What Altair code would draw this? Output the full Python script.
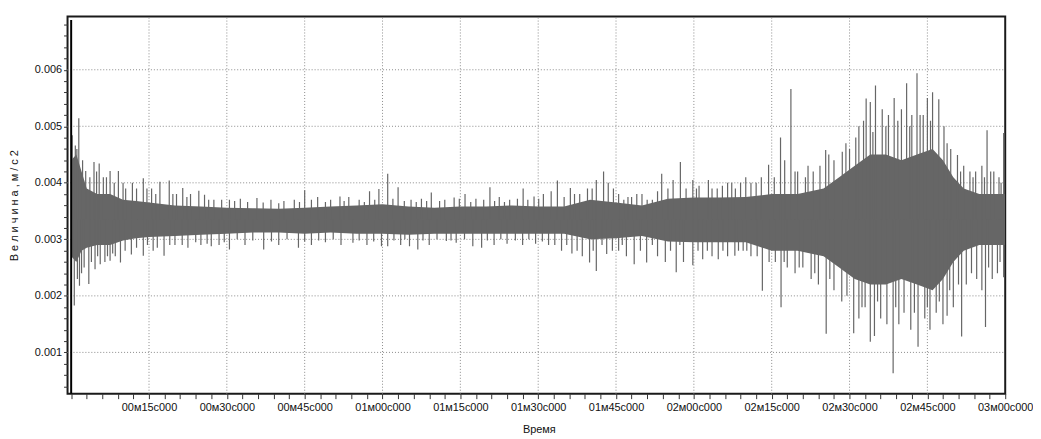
import altair as alt
import pandas as pd

# ---- envelope of the dense core of the signal (time in s, value in m/s2)
core_t = [0, 1, 2, 3, 5, 7.5, 10, 12.5, 15, 20, 25, 30, 35, 40, 45, 50, 55, 60, 65, 70,
          75, 80, 85, 90, 95, 100, 105, 110, 115, 120, 125, 130, 135, 140, 145, 148, 151,
          154, 157, 160, 163, 166, 168, 170, 172, 175, 178, 180]
core_hi = [0.0044, 0.0045, 0.0042, 0.0039, 0.0038, 0.0038, 0.0037, 0.00368, 0.00365, 0.0036,
           0.00358, 0.00356, 0.00355, 0.00354, 0.00356, 0.00358, 0.0036, 0.00362, 0.00358, 0.00356,
           0.00358, 0.00358, 0.0036, 0.00358, 0.00358, 0.0037, 0.00365, 0.0036, 0.00372, 0.00374,
           0.00374, 0.00375, 0.0038, 0.0038, 0.0039, 0.0041, 0.0043, 0.0045, 0.0045, 0.0044,
           0.0045, 0.0046, 0.0044, 0.0041, 0.0039, 0.0038, 0.0038, 0.0038]
core_lo = [0.0027, 0.0026, 0.0028, 0.00285, 0.0029, 0.0029, 0.00298, 0.00302, 0.00304, 0.00306,
           0.00308, 0.0031, 0.00312, 0.00312, 0.0031, 0.00312, 0.0031, 0.0031, 0.00308, 0.0031,
           0.0031, 0.0031, 0.0031, 0.0031, 0.0031, 0.003, 0.00302, 0.00306, 0.00296, 0.00295,
           0.00295, 0.00295, 0.0028, 0.0028, 0.0027, 0.0025, 0.0023, 0.0022, 0.0022, 0.0023,
           0.0022, 0.0021, 0.0023, 0.0026, 0.0028, 0.0029, 0.0029, 0.0029]

# ---- upward peaks
up_t = [0.2, 0.8, 1.47, 2.8, 3.6, 4.4, 5.4, 6.2, 7.5, 8.3, 9.1, 10.5, 11.8, 13.9, 15.5, 17.1,
        18.9, 20.3, 21.5, 23.0, 24.6, 25.7, 27.5, 29.0, 30.5, 32.6, 35.8, 38.5, 41.0, 43.0,
        45.0, 47.5, 50.0, 51.8, 53.5, 55.5, 57.5, 59.3, 61.0, 63.0, 65.5, 67.5, 69.4, 72.0,
        73.8, 75.9, 78.0, 80.7, 82.5, 84.5, 87.1, 89.2, 91.0, 93.7, 96.2, 98.0, 101.2, 102.6,
        104.5, 106.5, 108.0, 110.0, 112.0, 113.8, 116.0, 117.4, 119.8, 121.0, 122.8, 124.5,
        126.5, 128.0, 130.0, 132.0, 134.4, 135.5, 136.7, 138.7, 140.0, 141.5, 143.0, 144.3,
        145.4, 147.0, 148.6, 150.0, 151.2, 152.7, 153.2, 154.0, 155.0, 156.3, 157.5, 158.6,
        160.0, 161.0, 162.0, 163.0, 164.2, 165.0, 166.0, 167.2, 168.2, 169.5, 170.8, 172.0,
        173.2, 174.3, 175.5, 176.5, 177.8, 178.8, 179.7,
        1.1, 2.2, 4.9, 6.8, 10.0, 12.6, 14.6, 16.3, 19.6, 22.3, 26.5, 31.5, 34.0, 37.0, 40.0,
        44.0, 46.3, 49.0, 52.6, 56.5, 58.5, 62.0, 64.2, 66.5, 68.5, 71.0, 74.8, 77.0, 79.5,
        81.6, 83.5, 86.0, 88.0, 90.1, 92.5, 95.0, 97.0, 99.5, 100.4, 103.5, 105.5, 107.3,
        109.0, 111.0, 113.0, 115.0, 118.5, 120.5, 123.5, 125.5, 127.3, 129.0, 131.0, 133.0,
        137.5, 139.5, 142.0, 146.0, 149.3, 151.8, 154.5, 157.0, 159.3, 161.6, 163.6, 165.6,
        168.8, 171.4, 173.8, 176.0, 177.2, 179.2]
up_v = [0.00484, 0.00466, 0.00514, 0.00421, 0.0041, 0.00437, 0.00434, 0.0041, 0.00421, 0.0040,
        0.00421, 0.0039, 0.0040, 0.00408, 0.0039, 0.00402, 0.00404, 0.0038, 0.00391, 0.0038,
        0.00386, 0.00379, 0.0037, 0.0037, 0.0037, 0.00372, 0.00373, 0.0037, 0.00368, 0.0037,
        0.00387, 0.00375, 0.0037, 0.00376, 0.00375, 0.0037, 0.00385, 0.00389, 0.00416, 0.00392,
        0.0037, 0.00372, 0.00383, 0.0037, 0.00374, 0.0038, 0.00372, 0.00392, 0.00375, 0.0037,
        0.0039, 0.00376, 0.0038, 0.00404, 0.00391, 0.0038, 0.00405, 0.0042, 0.0039, 0.0037,
        0.00375, 0.0038, 0.0037, 0.00416, 0.00405, 0.00437, 0.00405, 0.00395, 0.00405, 0.0039,
        0.0040, 0.0039, 0.0041, 0.0040, 0.00432, 0.0041, 0.0048, 0.00566, 0.0042, 0.0041,
        0.0042, 0.0043, 0.00458, 0.0044, 0.00455, 0.0046, 0.0048, 0.0051, 0.00549, 0.00543,
        0.00572, 0.0053, 0.0052, 0.0055, 0.0053, 0.00576, 0.0052, 0.00594, 0.0052, 0.0055,
        0.0056, 0.00548, 0.0050, 0.0046, 0.00449, 0.0043, 0.0042, 0.0042, 0.0043, 0.00493,
        0.0042, 0.0041, 0.00488,
        0.0046, 0.0044, 0.0042, 0.0041, 0.0040, 0.0039, 0.0039, 0.0038, 0.0038, 0.00375, 0.0037,
        0.00368, 0.00366, 0.00365, 0.00364, 0.00366, 0.0037, 0.00366, 0.00368, 0.00366, 0.0037,
        0.00372, 0.00368, 0.00366, 0.00368, 0.00368, 0.00372, 0.00366, 0.0037, 0.00368, 0.00366,
        0.00372, 0.0037, 0.00372, 0.00385, 0.00375, 0.0038, 0.0039, 0.0039, 0.0040, 0.0038,
        0.00375, 0.0038, 0.0037, 0.00385, 0.0039, 0.0039, 0.0039, 0.0039, 0.00395, 0.0040,
        0.0040, 0.0040, 0.0041, 0.0044, 0.0042, 0.0043, 0.0045, 0.0047, 0.0050, 0.0049, 0.0050,
        0.0051, 0.0050, 0.0052, 0.0051, 0.0047, 0.0042, 0.0041, 0.0041, 0.0042, 0.0040]

# ---- downward peaks
dn_t = [0.6, 1.6, 2.5, 3.4, 4.6, 5.6, 6.5, 7.5, 8.5, 9.5, 11.6, 13.9, 15.8, 17.9, 20.0, 22.5,
        25.0, 27.0, 28.5, 30.5, 33.5, 37.1, 40.0, 43.8, 46.3, 49.0, 52.0, 54.3, 57.0, 59.8,
        61.0, 63.5, 65.2, 66.8, 69.0, 72.3, 74.2, 77.4, 79.1, 81.5, 84.0, 87.0, 89.5, 92.0,
        94.5, 96.5, 98.5, 99.9, 101.2, 103.2, 105.5, 107.0, 108.5, 110.9, 113.0, 114.5, 116.6,
        118.0, 119.8, 121.7, 123.5, 124.7, 126.5, 127.9, 129.5, 131.0, 133.2, 134.5, 136.8,
        138.0, 139.5, 141.0, 142.6, 144.0, 145.5, 147.0, 148.5, 149.5, 150.8, 151.8, 153.0,
        154.0, 154.8, 156.0, 157.2, 158.4, 159.5, 160.5, 161.8, 163.2, 164.5, 165.5, 166.7,
        168.0, 168.8, 170.0, 171.6, 172.5, 173.5, 174.5, 175.5, 176.2, 177.5, 178.5, 179.7,
        1.2, 2.0, 3.9, 5.1, 7.0, 8.0, 10.4, 12.6, 14.7, 16.6, 19.0, 21.4, 24.0, 26.2, 29.5,
        32.0, 35.0, 38.6, 41.6, 45.0, 47.7, 50.5, 55.5, 58.3, 62.2, 64.3, 67.8, 70.5, 73.2,
        75.8, 80.2, 82.8, 85.6, 88.2, 90.8, 93.2, 95.5, 97.5, 100.6, 102.3, 104.3, 106.2,
        109.7, 112.0, 115.5, 117.3, 120.8, 122.6, 125.6, 128.6, 130.2, 132.2, 135.7, 137.4,
        140.3, 143.3, 146.2, 152.4, 155.4, 158.9, 162.5, 165.0, 167.3, 169.3, 171.0, 176.8,
        179.0]
dn_v = [0.00183, 0.00218, 0.0025, 0.00221, 0.00247, 0.00256, 0.0026, 0.00262, 0.0027, 0.00259,
        0.00273, 0.00271, 0.0028, 0.00271, 0.0029, 0.00285, 0.0029, 0.00288, 0.0029, 0.00282,
        0.0029, 0.00282, 0.0029, 0.00285, 0.0029, 0.00295, 0.0029, 0.00294, 0.0029, 0.00288,
        0.00288, 0.0029, 0.00288, 0.00282, 0.0029, 0.00297, 0.00294, 0.00288, 0.00285, 0.0029,
        0.00292, 0.0029, 0.00292, 0.0029, 0.0028, 0.00275, 0.0027, 0.00259, 0.00244, 0.00274,
        0.0028, 0.0027, 0.00256, 0.00259, 0.0027, 0.0026, 0.00242, 0.0026, 0.00254, 0.00265,
        0.0027, 0.00265, 0.0027, 0.00271, 0.0028, 0.0027, 0.00209, 0.0026, 0.0018, 0.0025,
        0.0024, 0.0025, 0.0023, 0.0022, 0.00133, 0.0021, 0.0019, 0.0020, 0.00134, 0.0016,
        0.0018, 0.00119, 0.00129, 0.0016, 0.0015, 0.00063, 0.0015, 0.0017, 0.0014, 0.0011,
        0.0016, 0.0014, 0.0017, 0.0015, 0.00165, 0.0018, 0.00128, 0.0022, 0.0024, 0.0023,
        0.0021, 0.00145, 0.0023, 0.0024, 0.00233,
        0.0023, 0.0024, 0.0026, 0.0027, 0.0027, 0.00275, 0.0028, 0.00285, 0.0029, 0.00285,
        0.0029, 0.0029, 0.00295, 0.00292, 0.00295, 0.003, 0.00298, 0.00296, 0.003, 0.00296,
        0.00298, 0.003, 0.00298, 0.00296, 0.00298, 0.003, 0.00298, 0.003, 0.00298, 0.003,
        0.00298, 0.003, 0.00298, 0.003, 0.00296, 0.0029, 0.0029, 0.0028, 0.0028, 0.0029,
        0.0028, 0.0029, 0.0028, 0.0029, 0.0028, 0.0029, 0.0028, 0.0028, 0.0028, 0.0028,
        0.0028, 0.0027, 0.0026, 0.0026, 0.0025, 0.0024, 0.0023, 0.0018, 0.0019, 0.0018,
        0.0017, 0.0018, 0.0019, 0.0021, 0.0022, 0.0025, 0.0026]

signal_center = 0.00335
start_t = [0.0]
start_hi = [0.00688]
start_lo = [0.00027]

x_domain = [-0.7, 180]
y_domain = [0.00027, 0.00694]
x_ticks = [0, 3, 6, 9, 12, 15, 18, 21, 24, 27, 30, 33, 36, 39, 42, 45, 48, 51, 54, 57, 60,
           63, 66, 69, 72, 75, 78, 81, 84, 87, 90, 93, 96, 99, 102, 105, 108, 111, 114, 117,
           120, 123, 126, 129, 132, 135, 138, 141, 144, 147, 150, 153, 156, 159, 162, 165,
           168, 171, 174, 177, 180]
y_ticks = [0.0004, 0.0006, 0.0008, 0.001, 0.0012, 0.0014, 0.0016, 0.0018, 0.002, 0.0022,
           0.0024, 0.0026, 0.0028, 0.003, 0.0032, 0.0034, 0.0036, 0.0038, 0.004, 0.0042,
           0.0044, 0.0046, 0.0048, 0.005, 0.0052, 0.0054, 0.0056, 0.0058, 0.006, 0.0062,
           0.0064, 0.0066, 0.0068]
grid_x = [15, 30, 45, 60, 75, 90, 105, 120, 135, 150, 165]
grid_y = [0.001, 0.002, 0.003, 0.004, 0.005, 0.006]

FONT = "Liberation Sans"
SIG = "#666666"

xs = alt.Scale(domain=x_domain, nice=False, zero=False)
ys = alt.Scale(domain=y_domain, nice=False, zero=False)

x_label_expr = ("(datum.value % 15 == 0 && datum.value > 0) ? "
                "('0' + floor(datum.value / 60) + 'м' + "
                "(datum.value % 60 < 10 ? '0' : '') + (datum.value % 60) + 'с000') : ''")
y_label_expr = ("abs(datum.value * 1000 - round(datum.value * 1000)) < 0.001 ? "
                "format(datum.value, '.3f') : ''")

x_axis = alt.Axis(values=x_ticks, labelExpr=x_label_expr, grid=False, domain=False,
                  tickSize=5, tickColor="#333", tickWidth=1, labelPadding=3,
                  labelFont=FONT, labelFontSize=11, labelColor="#111",
                  labelOverlap=False, labelFlush=False,
                  title="Время", titleFont=FONT, titleFontSize=11,
                  titleFontWeight="normal", titleColor="#111",
                  titleX=475, titleY=36, titleBaseline="middle")
y_axis = alt.Axis(values=y_ticks, labelExpr=y_label_expr, grid=False, domain=False,
                  tickSize=4, tickColor="#333", tickWidth=1, labelPadding=2,
                  labelFont=FONT, labelFontSize=11, labelColor="#111",
                  labelOverlap=False, labelFlush=False,
                  title="В е л и ч и н а ,   м / с 2", titleFont=FONT,
                  titleFontSize=11, titleFontWeight="normal", titleColor="#111",
                  titleX=-53, titleY=190, titleAngle=-90,
                  titleAlign="center", titleBaseline="middle")

core_df = pd.DataFrame({"t": core_t, "hi": core_hi, "lo": core_lo})
up_df = pd.DataFrame({"t": up_t, "v": up_v, "c": [signal_center] * len(up_t)})
dn_df = pd.DataFrame({"t": dn_t, "v": dn_v, "c": [signal_center] * len(dn_t)})
start_df = pd.DataFrame({"t": start_t, "hi": start_hi, "lo": start_lo})
gx_df = pd.DataFrame({"x": grid_x, "y0": [y_domain[0]] * len(grid_x),
                      "y1": [y_domain[1]] * len(grid_x)})
gy_df = pd.DataFrame({"y": grid_y, "x0": [x_domain[0]] * len(grid_y),
                      "x1": [x_domain[1]] * len(grid_y)})

grid_v = alt.Chart(gx_df).mark_rule(color="#8a8a8a", strokeWidth=1, strokeDash=[1, 2]).encode(
    x=alt.X("x:Q", scale=xs, axis=x_axis),
    y=alt.Y("y0:Q", scale=ys, axis=y_axis),
    y2="y1:Q",
)
grid_h = alt.Chart(gy_df).mark_rule(color="#8a8a8a", strokeWidth=1, strokeDash=[1, 2]).encode(
    y=alt.Y("y:Q", scale=ys, axis=y_axis),
    x=alt.X("x0:Q", scale=xs, axis=x_axis),
    x2="x1:Q",
)
core = alt.Chart(core_df).mark_area(color=SIG, opacity=1, clip=True).encode(
    x=alt.X("t:Q", scale=xs, axis=x_axis),
    y=alt.Y("hi:Q", scale=ys, axis=y_axis),
    y2="lo:Q",
)
ups = alt.Chart(up_df).mark_rule(color=SIG, strokeWidth=1.2, clip=True).encode(
    x=alt.X("t:Q", scale=xs, axis=x_axis),
    y=alt.Y("v:Q", scale=ys, axis=y_axis),
    y2="c:Q",
)
dns = alt.Chart(dn_df).mark_rule(color=SIG, strokeWidth=1.2, clip=True).encode(
    x=alt.X("t:Q", scale=xs, axis=x_axis),
    y=alt.Y("v:Q", scale=ys, axis=y_axis),
    y2="c:Q",
)
start = alt.Chart(start_df).mark_rule(color="#000000", strokeWidth=2, clip=True).encode(
    x=alt.X("t:Q", scale=xs, axis=x_axis),
    y=alt.Y("hi:Q", scale=ys, axis=y_axis),
    y2="lo:Q",
)

chart = alt.layer(grid_v, grid_h, core, ups, dns, start).properties(
    width=945, height=380,
    padding={"left": 60, "top": 7, "right": 28, "bottom": 44},
    autosize=alt.AutoSizeParams(type="none"),
    background="white",
).configure_view(stroke="#1a1a1a", strokeWidth=2)

chart.save("out.html", embed_options={"renderer": "svg", "actions": False})
